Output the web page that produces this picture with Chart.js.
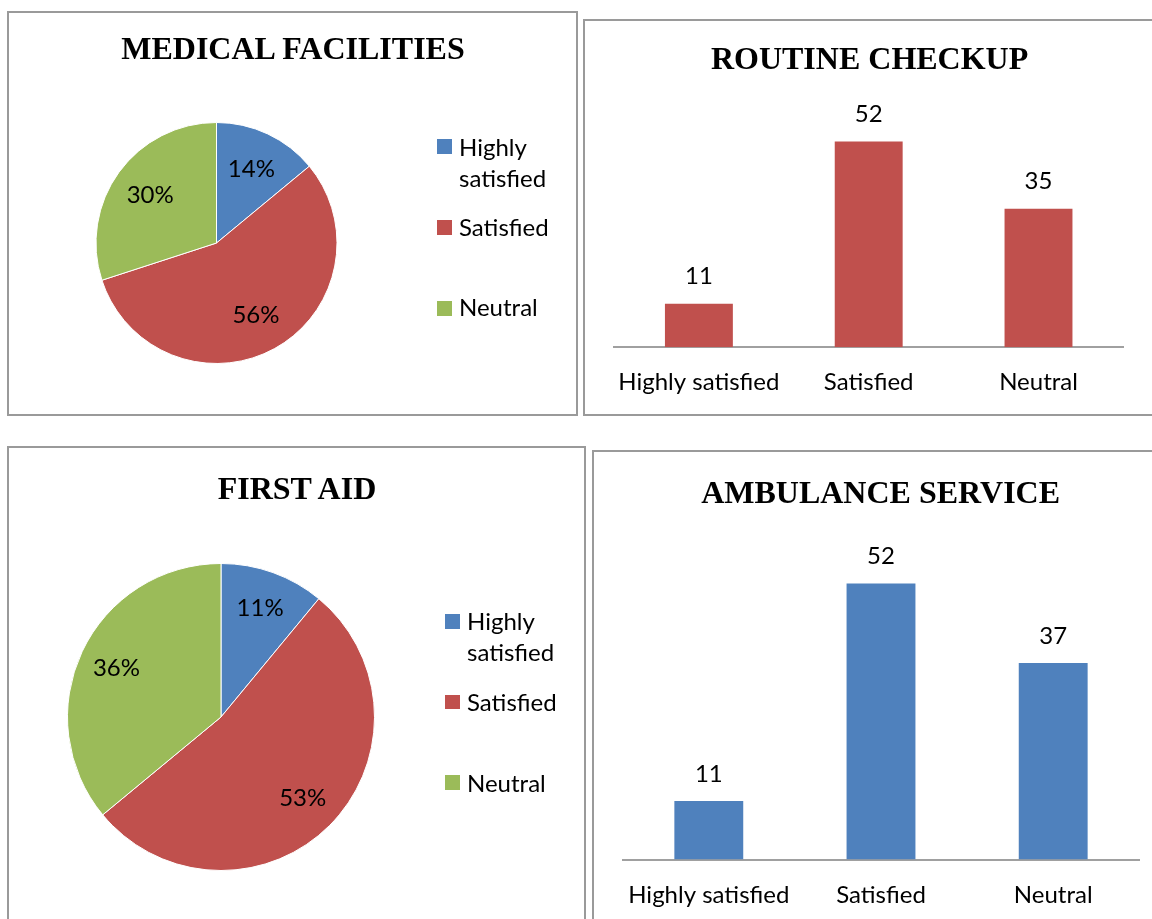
<!DOCTYPE html>
<html>
<head>
<meta charset="utf-8">
<script src="https://cdn.jsdelivr.net/npm/chart.js@4.4.0/dist/chart.umd.min.js"></script>
<style>
  body { margin: 0; width: 1152px; height: 919px; overflow: hidden; background: #fff; position: relative; font-family: Lato, sans-serif; }
  .panel { position: absolute; border: 2px solid #9a9a9a; box-sizing: border-box; }
  canvas { position: absolute; }
  .title { position: absolute; width: 600px; font-family: "Liberation Serif", serif; font-weight: bold; font-size: 32px; line-height: 36px; text-align: center; color: #000; white-space: nowrap; }
  .leg-sq { position: absolute; }
  .leg-tx { position: absolute; font-size: 24px; line-height: 31px; color: #000; }
</style>
</head>
<body>
<div class="panel" style="left:7px;top:11px;width:571px;height:405px"></div>
<div class="panel" style="left:583px;top:19px;width:600px;height:397px"></div>
<div class="panel" style="left:7px;top:446px;width:579px;height:500px"></div>
<div class="panel" style="left:592px;top:450px;width:600px;height:500px"></div>

<canvas id="medical" width="560" height="395" style="left:10px;top:15px"></canvas>
<canvas id="routine" width="566" height="390" style="left:586px;top:22px"></canvas>
<canvas id="firstAid" width="570" height="469" style="left:10px;top:450px"></canvas>
<canvas id="ambulance" width="557" height="466" style="left:595px;top:453px"></canvas>

<div id="overlay"></div>

<script>
// data
const categories = ['Highly satisfied', 'Satisfied', 'Neutral'];
const legendLines = [['Highly', 'satisfied'], ['Satisfied'], ['Neutral']];
const medicalPct = [14, 56, 30];
const firstAidPct = [11, 53, 36];
const routineCounts = [11, 52, 35];
const ambulanceCounts = [11, 52, 37];
const yMax = 60;

const titles = ['MEDICAL FACILITIES', 'ROUTINE CHECKUP', 'FIRST AID', 'AMBULANCE SERVICE'];

// colours
const sliceColors = ['#4F81BD', '#C0504D', '#9BBB59'];
const routineColor = '#C0504D';
const ambulanceColor = '#4F81BD';

Chart.defaults.font.family = 'Lato, sans-serif';
Chart.defaults.color = '#000';

// 1. titles and pie legends (html text)
const overlay = document.getElementById('overlay');
const titlePos = [[293, 48.3], [869.6, 58], [297, 487.5], [880.6, 491.7]];
titles.forEach((t, i) => {
    const d = document.createElement('div');
    d.className = 'title';
    d.textContent = t;
    d.style.left = (titlePos[i][0] - 300) + 'px';
    d.style.top = (titlePos[i][1] - 18) + 'px';
    overlay.appendChild(d);
});

function buildLegend(sq, txtX, size, rows) {
    legendLines.forEach((lines, i) => {
        const s = document.createElement('div');
        s.className = 'leg-sq';
        s.style.left = sq + 'px';
        s.style.top = rows[i][0] + 'px';
        s.style.width = size + 'px';
        s.style.height = size + 'px';
        s.style.background = sliceColors[i];
        overlay.appendChild(s);
        const t = document.createElement('div');
        t.className = 'leg-tx';
        t.innerHTML = lines.join('<br>');
        t.style.left = txtX + 'px';
        t.style.top = (rows[i][1] - 16) + 'px';
        overlay.appendChild(t);
    });
}
buildLegend(437, 459, 15, [[139, 147], [219.5, 226.5], [300.5, 307]]);
buildLegend(445, 467, 14.5, [[614, 621], [694.5, 701.5], [775, 782.5]]);

// 2. plugins for value labels
const sliceLabels = {
    id: 'sliceLabels',
    afterDatasetsDraw(chart, args, opts) {
        const {ctx} = chart;
        const meta = chart.getDatasetMeta(0);
        ctx.save();
        ctx.font = '24px Lato';
        ctx.fillStyle = '#000';
        ctx.textAlign = 'center';
        ctx.textBaseline = 'middle';
        meta.data.forEach((arc, i) => {
            const mid = (arc.startAngle + arc.endAngle) / 2;
            const r = arc.outerRadius * opts.frac;
            ctx.fillText(chart.data.datasets[0].data[i] + '%', arc.x + Math.cos(mid) * r, arc.y + Math.sin(mid) * r);
        });
        ctx.restore();
    }
};

const barLabels = {
    id: 'barLabels',
    afterDatasetsDraw(chart) {
        const {ctx} = chart;
        const meta = chart.getDatasetMeta(0);
        ctx.save();
        ctx.font = '24px Lato';
        ctx.fillStyle = '#000';
        ctx.textAlign = 'center';
        ctx.textBaseline = 'middle';
        meta.data.forEach((bar, i) => {
            ctx.fillText(String(chart.data.datasets[0].data[i]), bar.x, bar.y - 27);
        });
        ctx.restore();
    }
};

// 3. charts
function makePie(id, values, padding, frac) {
    return new Chart(document.getElementById(id), {
        type: 'pie',
        data: {
            labels: categories,
            datasets: [{ data: values, backgroundColor: sliceColors, borderColor: '#ffffff', borderWidth: 1 }]
        },
        options: {
            responsive: false,
            animation: false,
            layout: { padding },
            plugins: {
                legend: { display: false },
                tooltip: { enabled: false },
                sliceLabels: { frac }
            }
        },
        plugins: [sliceLabels]
    });
}

function makeBar(id, values, color, padding, axisHeight, tickPad) {
    return new Chart(document.getElementById(id), {
        type: 'bar',
        data: {
            labels: categories,
            datasets: [{ data: values, backgroundColor: color, barPercentage: 0.4, categoryPercentage: 1 }]
        },
        options: {
            responsive: false,
            animation: false,
            layout: { padding },
            plugins: { legend: { display: false }, tooltip: { enabled: false } },
            scales: {
                x: {
                    grid: { display: false },
                    border: { display: true, color: '#a0a0a0', width: 2 },
                    ticks: { font: { size: 24 }, color: '#000', padding: tickPad, maxRotation: 0 },
                    afterFit: (scale) => { scale.height = axisHeight; }
                },
                y: { display: false, min: 0, max: yMax }
            }
        },
        plugins: [barLabels]
    });
}

makePie('medical', medicalPct, { left: 85.5, right: 232.5, top: 107, bottom: 46 }, 0.68);
makePie('firstAid', firstAidPct, { left: 57, right: 205, top: 113, bottom: 48 }, 0.753);
makeBar('routine', routineCounts, routineColor, { left: 28, right: 28.6, top: 87.7, bottom: 0 }, 64.7, 13);
makeBar('ambulance', ambulanceCounts, ambulanceColor, { left: 27.7, right: 12.7, top: 88, bottom: 0 }, 59.5, 13);
</script>
</body>
</html>
